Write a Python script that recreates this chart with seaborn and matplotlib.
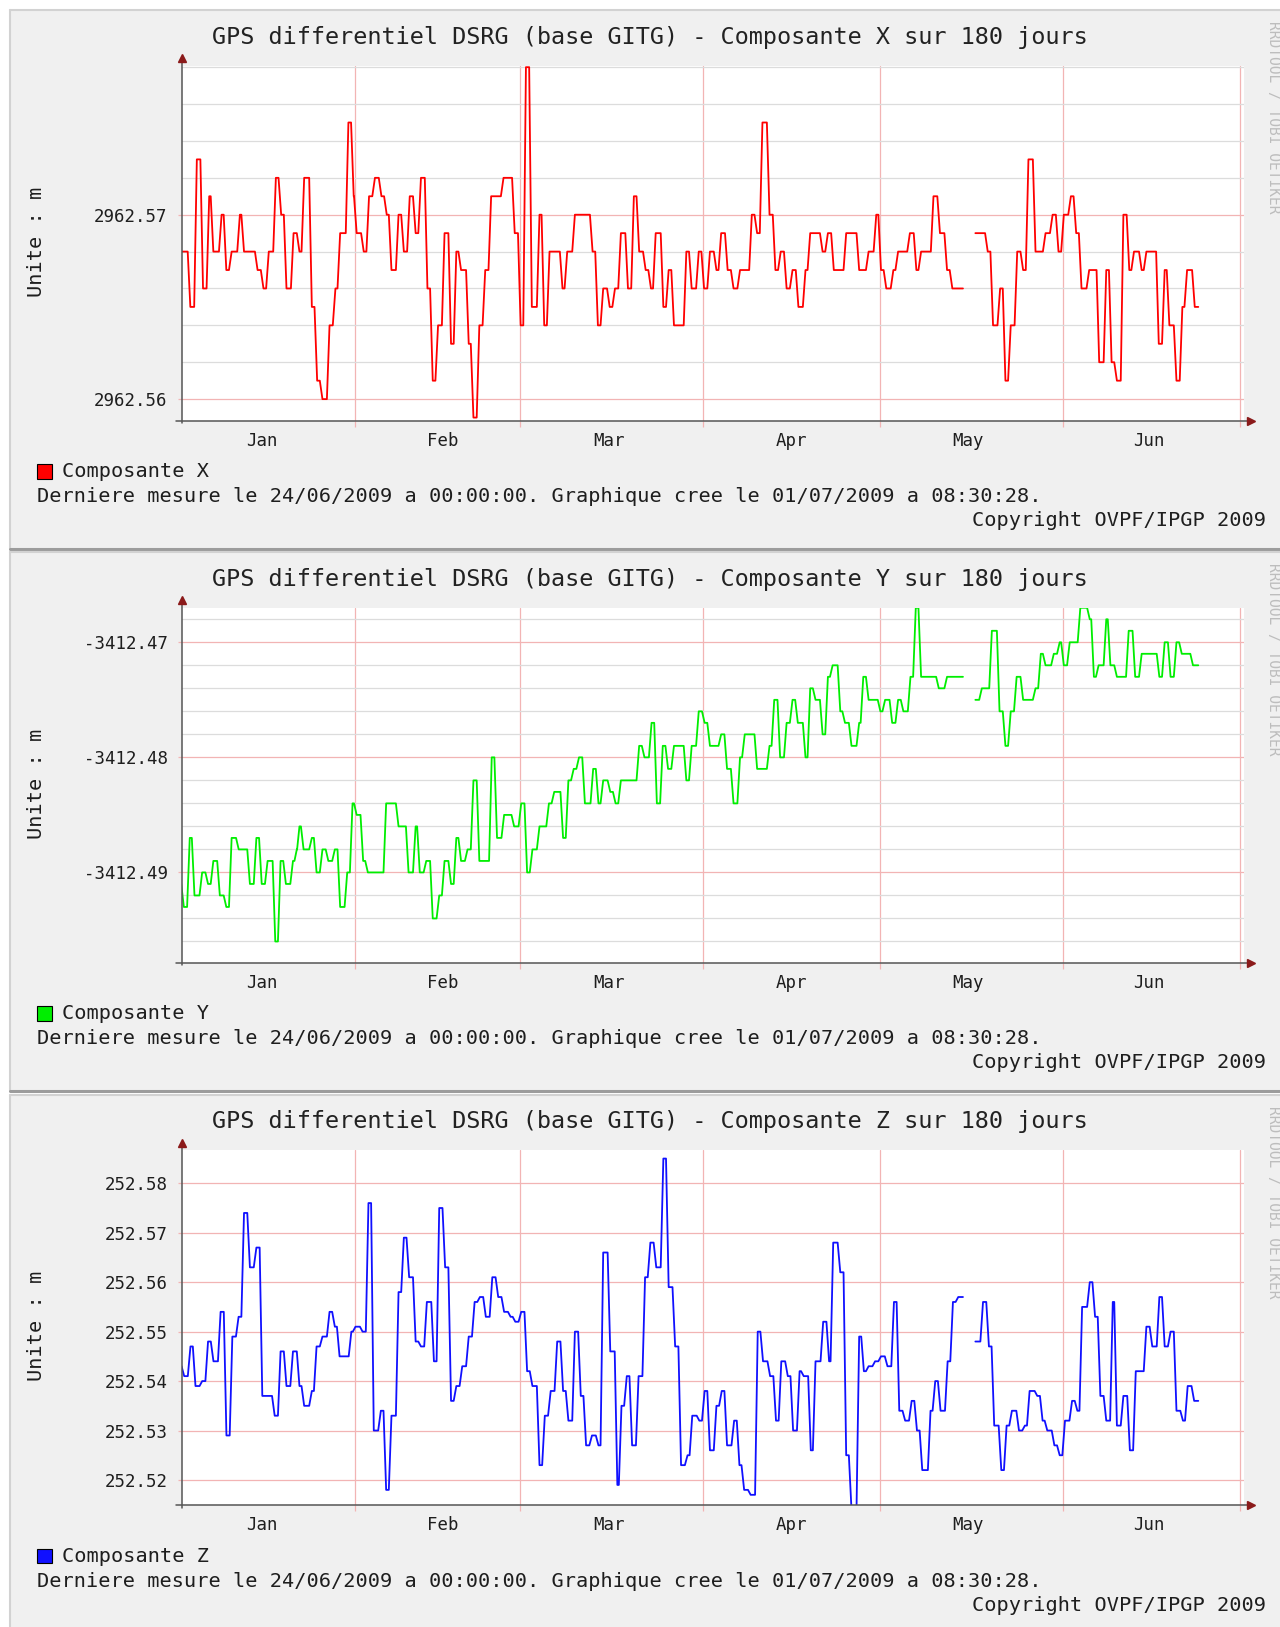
import numpy as np
import pandas as pd
import matplotlib
matplotlib.use("Agg")
import matplotlib.pyplot as plt
import seaborn as sns
from matplotlib.patches import Rectangle
from matplotlib.lines import Line2D

W, H = 1280, 1627

# time axis: days since 1 Jan 2009
months = ["Jan", "Feb", "Mar", "Apr", "May", "Jun"]
month_starts = [31, 59, 90, 120, 151, 181]
month_label_days = [15.2, 45.9, 74.1, 105.0, 134.9, 165.7]

# Composante X  (mm above 2962.56 m), None = gap / end of data
x_base = 2962.56
x_days = [1.35, 3.1, 4.2, 5.25, 6.3, 7.0, 8.4, 9.2, 10.1, 11.5,
          12.2, 14.5, 15.5, 16.4, 17.6, 18.5, 19.4, 20.6, 21.6, 22.4,
          23.7, 24.6, 25.5, 26.7, 27.7, 28.5, 29.9, 30.8, 31.3, 32.5,
          33.4, 34.4, 35.5, 36.4, 37.2, 38.4, 39.3, 40.3, 41.3, 42.2,
          43.3, 44.2, 45.1, 46.2, 47.3, 48.2, 49.0, 50.3, 51.1, 52.1,
          53.1, 54.1, 56.2, 58.1, 59.1, 60.0, 61.0, 62.3, 63.1, 64.0,
          66.2, 67.0, 68.3, 71.3, 72.2, 73.1, 74.2, 75.1, 76.1, 77.3,
          78.3, 79.2, 80.3, 81.2, 82.0, 83.3, 84.2, 85.1, 87.2, 88.1,
          89.3, 90.2, 91.2, 92.3, 93.1, 94.2, 95.2, 96.3, 98.3, 99.2,
          100.1, 101.3, 102.3, 103.2, 104.2, 105.2, 106.2, 107.4, 108.2, 110.3,
          111.2, 112.2, 114.3, 116.5, 118.1, 119.4, 120.2, 121.1, 122.3, 123.1,
          125.1, 126.2, 127.0, 129.1, 130.2, 131.4, 132.3, 134.1, 136.2, 138.3,
          139.2, 140.4, 141.3, 142.2, 143.3, 144.3, 145.2, 146.4, 148.1, 149.3,
          150.3, 151.2, 152.4, 153.3, 154.2, 155.5, 157.2, 158.4, 159.3, 160.2,
          161.3, 162.3, 163.1, 164.4, 165.2, 167.3, 168.3, 169.1, 170.3, 171.3,
          172.1, 173.4, 174.0]
x_mm = [8, 5, 13, 6, 11, 8, 10, 7, 8, 10,
        8, 7, 6, 8, 12, 10, 6, 9, 8, 12,
        5, 1, 0, 4, 6, 9, 15, 11, 9, 8,
        11, 12, 11, 10, 7, 10, 8, 11, 9, 12,
        6, 1, 4, 9, 3, 8, 7, 3, -1, 4,
        7, 11, 12, 9, 4, 18, 5, 10, 4, 8,
        6, 8, 10, 8, 4, 6, 5, 6, 9, 6,
        11, 8, 7, 6, 9, 5, 7, 4, 8, 6,
        8, 6, 8, 7, 9, 7, 6, 7, 10, 9,
        15, 10, 7, 8, 6, 7, 5, 7, 9, 8,
        9, 7, 9, 7, 8, 10, 7, 6, 7, 8,
        9, 7, 8, 11, 9, 7, 6, None, 9, 8,
        4, 6, 1, 4, 8, 7, 13, 8, 9, 10,
        8, 10, 11, 9, 6, 7, 2, 7, 2, 1,
        10, 7, 8, 7, 8, 3, 7, 4, 1, 5,
        7, 5, None]
x_ticks = [2962.56, 2962.57]
x_minor = [2962.562, 2962.564, 2962.566, 2962.568, 2962.572, 2962.574, 2962.576, 2962.578]
x_ylim = (2962.55883, 2962.57808)

# Composante Y  (mm above -3412.49 m)
y_base = -3412.49
y_days = [1.35, 2.0, 3.0, 3.8, 5.1, 6.1, 7.0, 8.1, 9.2, 10.1,
          11.3, 13.2, 14.3, 15.2, 16.2, 17.5, 18.4, 19.3, 20.5, 21.2,
          21.6, 22.3, 23.7, 24.5, 25.5, 26.5, 27.6, 28.5, 29.7, 30.6,
          31.3, 32.4, 33.2, 36.3, 38.4, 40.1, 41.3, 42.0, 43.1, 44.2,
          45.3, 46.2, 47.3, 48.2, 49.0, 50.1, 51.1, 52.1, 54.2, 55.1,
          56.3, 58.0, 59.2, 60.2, 61.1, 62.3, 63.9, 64.8, 66.3, 67.2,
          68.1, 69.0, 70.0, 71.4, 72.3, 73.1, 74.3, 75.2, 76.1, 79.2,
          80.1, 81.3, 82.2, 83.2, 84.1, 85.1, 87.2, 88.1, 89.3, 90.3,
          91.2, 93.1, 94.1, 95.2, 96.3, 97.1, 99.2, 101.3, 102.1, 103.1,
          104.2, 105.2, 106.1, 107.4, 108.2, 109.1, 110.3, 111.2, 112.0, 113.3,
          114.1, 115.2, 116.5, 117.2, 118.1, 120.1, 120.9, 122.1, 123.1, 124.0,
          125.2, 126.1, 127.0, 130.0, 131.4, 134.1, 136.2, 137.3, 139.0, 140.3,
          141.3, 142.2, 143.2, 144.3, 146.4, 147.3, 148.1, 149.5, 150.5, 151.2,
          152.2, 154.0, 155.6, 156.3, 157.1, 158.4, 159.1, 160.2, 162.2, 163.3,
          164.4, 167.4, 168.3, 169.3, 170.3, 171.2, 173.1, 174.0]
y_mm = [-1, -3, 3, -2, 0, -1, 1, -2, -3, 3,
        2, -1, 3, -1, 1, -6, 1, -1, 1, 2,
        4, 2, 3, 0, 2, 1, 2, -3, 0, 6,
        5, 1, 0, 6, 4, 0, 4, 0, 1, -4,
        -2, 1, -1, 3, 1, 2, 8, 1, 10, 3,
        5, 4, 6, 0, 2, 4, 6, 7, 3, 8,
        9, 10, 6, 9, 6, 8, 7, 6, 8, 11,
        10, 13, 6, 11, 9, 11, 8, 11, 14, 13,
        11, 12, 9, 6, 10, 12, 9, 11, 15, 10,
        13, 15, 13, 10, 16, 15, 12, 17, 18, 14,
        13, 11, 13, 17, 15, 14, 15, 13, 15, 14,
        17, 23, 17, 16, 17, None, 15, 16, 21, 14,
        11, 14, 17, 15, 16, 19, 18, 19, 20, 18,
        20, 23, 22, 17, 18, 22, 18, 17, 21, 17,
        19, 17, 20, 17, 20, 19, 18, None]
y_ticks = [-3412.49, -3412.48, -3412.47]
y_minor = [-3412.496, -3412.494, -3412.492, -3412.488, -3412.486, -3412.484,
           -3412.482, -3412.478, -3412.476, -3412.474, -3412.472, -3412.468]
y_ylim = (-3412.49787, -3412.46702)

# Composante Z  (mm above 252.52 m)
z_base = 252.52
z_days = [1.35, 2.06, 3.12, 3.97, 5.11, 6.1, 7.02, 8.23, 9.22, 10.22,
          11.28, 12.2, 13.2, 14.3, 15.3, 17.4, 18.4, 19.4, 20.5, 21.6,
          22.4, 23.7, 24.5, 25.5, 26.7, 27.6, 28.4, 30.4, 31.1, 32.3,
          33.3, 34.2, 35.4, 36.3, 37.2, 38.4, 39.3, 40.2, 41.3, 42.2,
          43.2, 44.4, 45.3, 46.3, 47.3, 48.2, 49.2, 50.3, 51.3, 52.2,
          53.2, 54.3, 55.3, 56.3, 57.4, 58.2, 59.2, 60.2, 61.1, 62.3,
          63.2, 64.2, 65.3, 66.3, 67.2, 68.3, 69.3, 70.2, 71.2, 72.3,
          73.1, 74.3, 75.5, 76.2, 77.1, 78.0, 79.1, 80.2, 81.1, 82.1,
          83.3, 84.2, 85.3, 86.3, 87.4, 88.2, 89.4, 90.3, 91.2, 92.3,
          93.2, 94.1, 95.3, 96.2, 97.0, 98.1, 99.3, 100.2, 101.4, 102.4,
          103.3, 104.4, 105.3, 106.4, 107.1, 108.3, 109.1, 110.4, 111.4, 112.1,
          113.3, 114.3, 115.2, 116.5, 117.3, 118.1, 119.2, 120.2, 121.3, 122.4,
          123.3, 124.3, 125.4, 126.3, 127.2, 128.6, 129.4, 130.3, 131.5, 132.4,
          133.3, 134.1, 136.2, 137.5, 138.5, 139.4, 140.6, 141.5, 142.4, 143.6,
          144.6, 145.4, 146.7, 147.6, 148.4, 149.6, 150.5, 151.4, 152.6, 153.5,
          154.3, 155.6, 156.5, 157.4, 158.4, 159.5, 160.2, 161.3, 162.4, 163.4,
          165.2, 166.2, 167.4, 168.3, 169.3, 170.3, 171.4, 172.2, 173.3, 174.0]
z_mm = [23, 21, 27, 19, 20, 28, 24, 34, 9, 29,
        33, 54, 43, 47, 17, 13, 26, 19, 26, 19,
        15, 18, 27, 29, 34, 31, 25, 30, 31, 30,
        56, 10, 14, -2, 13, 38, 49, 41, 28, 27,
        36, 24, 55, 43, 16, 19, 23, 29, 36, 37,
        33, 41, 37, 34, 33, 32, 34, 22, 19, 3,
        13, 18, 28, 18, 12, 30, 17, 7, 9, 7,
        46, 26, -1, 15, 21, 7, 21, 41, 48, 43,
        65, 39, 27, 3, 5, 13, 12, 18, 6, 15,
        18, 7, 12, 3, -2, -3, 30, 24, 21, 12,
        24, 21, 10, 22, 21, 6, 24, 32, 24, 48,
        42, 5, -6, 29, 22, 23, 24, 25, 23, 36,
        14, 12, 16, 10, 2, 14, 20, 14, 24, 36,
        37, None, 28, 36, 27, 11, 2, 11, 14, 10,
        11, 18, 17, 12, 10, 7, 5, 12, 16, 14,
        35, 40, 33, 17, 12, 36, 11, 17, 6, 22,
        31, 27, 37, 27, 30, 14, 12, 19, 16, None]
z_ticks = [252.52, 252.53, 252.54, 252.55, 252.56, 252.57, 252.58]
z_minor = []
z_ylim = (252.51488, 252.58667)

title_tpl = "GPS differentiel DSRG (base GITG) - Composante {} sur 180 jours"
footer = "Derniere mesure le 24/06/2009 a 00:00:00. Graphique cree le 01/07/2009 a 08:30:28."
copyright_txt = "Copyright OVPF/IPGP 2009"
watermark = "RRDTOOL / TOBI OETIKER"

RAMP = 0.45  # days taken by a change of level (rrdtool draws short slopes)


def to_frame(days, mm, base):
    assert len(days) == len(mm)
    rows, seg = [], 0
    for i, (t, v) in enumerate(zip(days, mm)):
        if v is None:
            seg += 1
            continue
        rows.append((t, base + v / 1000.0, seg))
        t_next = days[i + 1]
        end = t_next if mm[i + 1] is None else t_next - RAMP
        rows.append((end, base + v / 1000.0, seg))
    return pd.DataFrame(rows, columns=["t", "v", "seg"])


sns.set_style("white")
plt.rcParams["font.family"] = ["DejaVu Sans Mono"]

fig = plt.figure(figsize=(W / 100, H / 100), dpi=100)
fig.patch.set_facecolor("white")


def fx(px):
    return px / W


def fy(py):
    return 1 - py / H


def fig_line(x0, y0, x1, y1, **kw):
    fig.add_artist(Line2D([fx(x0), fx(x1)], [fy(y0), fy(y1)],
                          transform=fig.transFigure, **kw))


panels = [
    ("X", "#ff0000", x_days, x_mm, x_base, x_ticks, x_minor, x_ylim),
    ("Y", "#00ee00", y_days, y_mm, y_base, y_ticks, y_minor, y_ylim),
    ("Z", "#1010ff", z_days, z_mm, z_base, z_ticks, z_minor, z_ylim),
]

MGRID = "#f2b4b4"
GRID = "#dcdcdc"
TXT = "#1e1e1e"

for k, (comp, color, days, mm, base, ticks, minor, ylim) in enumerate(panels):
    off = k * 542.3
    top, bottom = 10 + off, 549 + off

    fig.add_artist(Rectangle((fx(10), fy(bottom)), 1 - fx(10), (bottom - top) / H,
                             transform=fig.transFigure, facecolor="#f0f0f0",
                             edgecolor="none", zorder=-5))
    fig_line(10, top, W, top, color="#d2d2d2", lw=1.5)
    fig_line(10, top, 10, bottom, color="#d2d2d2", lw=1.5)
    fig_line(10, bottom, W, bottom, color="#9c9c9c", lw=2.2)

    ax = fig.add_axes([fx(181.5), fy(420.7 + off), (1244 - 181.5) / W, (420.7 - 65.7) / H])
    ax.set_facecolor("white")
    for s in ax.spines.values():
        s.set_visible(False)

    df = to_frame(days, mm, base)
    sns.lineplot(data=df, x="t", y="v", units="seg", estimator=None, color=color,
                 linewidth=1.3, legend=False, ax=ax)

    ax.set_xlim(1.6, 181.75)
    ax.set_ylim(*ylim)
    ax.set_xlabel("")
    ax.set_ylabel("")

    ax.set_xticks(month_starts)
    ax.set_xticklabels([])
    ax.set_xticks(month_label_days, minor=True)
    ax.set_xticklabels(months, minor=True)
    ax.set_yticks(ticks)
    ax.set_yticklabels([f"{v:.2f}" for v in ticks])
    ax.set_yticks(minor, minor=True)

    ax.set_axisbelow(True)
    ax.grid(True, which="major", axis="both", color=MGRID, lw=0.9)
    ax.grid(True, which="minor", axis="y", color=GRID, lw=0.9)
    ax.grid(False, which="minor", axis="x")

    ax.tick_params(axis="x", which="major", length=4.5, width=0.9, color=MGRID,
                   direction="out", bottom=True)
    ax.tick_params(axis="x", which="minor", length=0, pad=8, labelsize=12.5,
                   labelcolor=TXT, bottom=True)
    ax.tick_params(axis="y", which="major", length=3, width=0.9, color=MGRID,
                   pad=7, labelsize=12.5, labelcolor=TXT, left=True)
    ax.tick_params(axis="y", which="minor", length=0, left=True)

    # axes with arrows
    fig_line(181.5, 423 + off, 181.5, 60 + off, color="#555555", lw=1.1, zorder=5)
    fig_line(176, 420.7 + off, 1249, 420.7 + off, color="#555555", lw=1.1, zorder=5)
    fig.add_artist(Line2D([fx(181.5)], [fy(58 + off)], marker="^", markersize=5.5,
                          color="#8b1a1a", lw=0, transform=fig.transFigure, zorder=6))
    fig.add_artist(Line2D([fx(1251)], [fy(420.7 + off)], marker=">", markersize=5.5,
                          color="#8b1a1a", lw=0, transform=fig.transFigure, zorder=6))

    # texts
    fig.text(fx(650.3), fy(37.3 + off), title_tpl.format(comp), ha="center",
             va="center", fontsize=16.9, color="#222222")
    fig.text(fx(36.3), fy(241.7 + off), "Unite : m", rotation=90, ha="center",
             va="center", fontsize=14.6, color=TXT)
    fig.add_artist(Rectangle((fx(37), fy(478.5 + off)), 15 / W, 14.5 / H,
                             transform=fig.transFigure, facecolor=color,
                             edgecolor="#000000", lw=0.8, zorder=4))
    fig.text(fx(62), fy(471.5 + off), f"Composante {comp}", ha="left", va="center",
             fontsize=14.6, color=TXT)
    fig.text(fx(37.3), fy(496.5 + off), footer, ha="left", va="center",
             fontsize=14.6, color=TXT)
    fig.text(fx(1265.5), fy(520.5 + off), copyright_txt, ha="right", va="center",
             fontsize=14.6, color=TXT)
    fig.text(fx(1274), fy(21 + off), watermark, rotation=270, ha="center", va="top",
             fontsize=10.5, color="#bdbdbd")

fig.savefig("out.png", dpi=100, facecolor="white")
